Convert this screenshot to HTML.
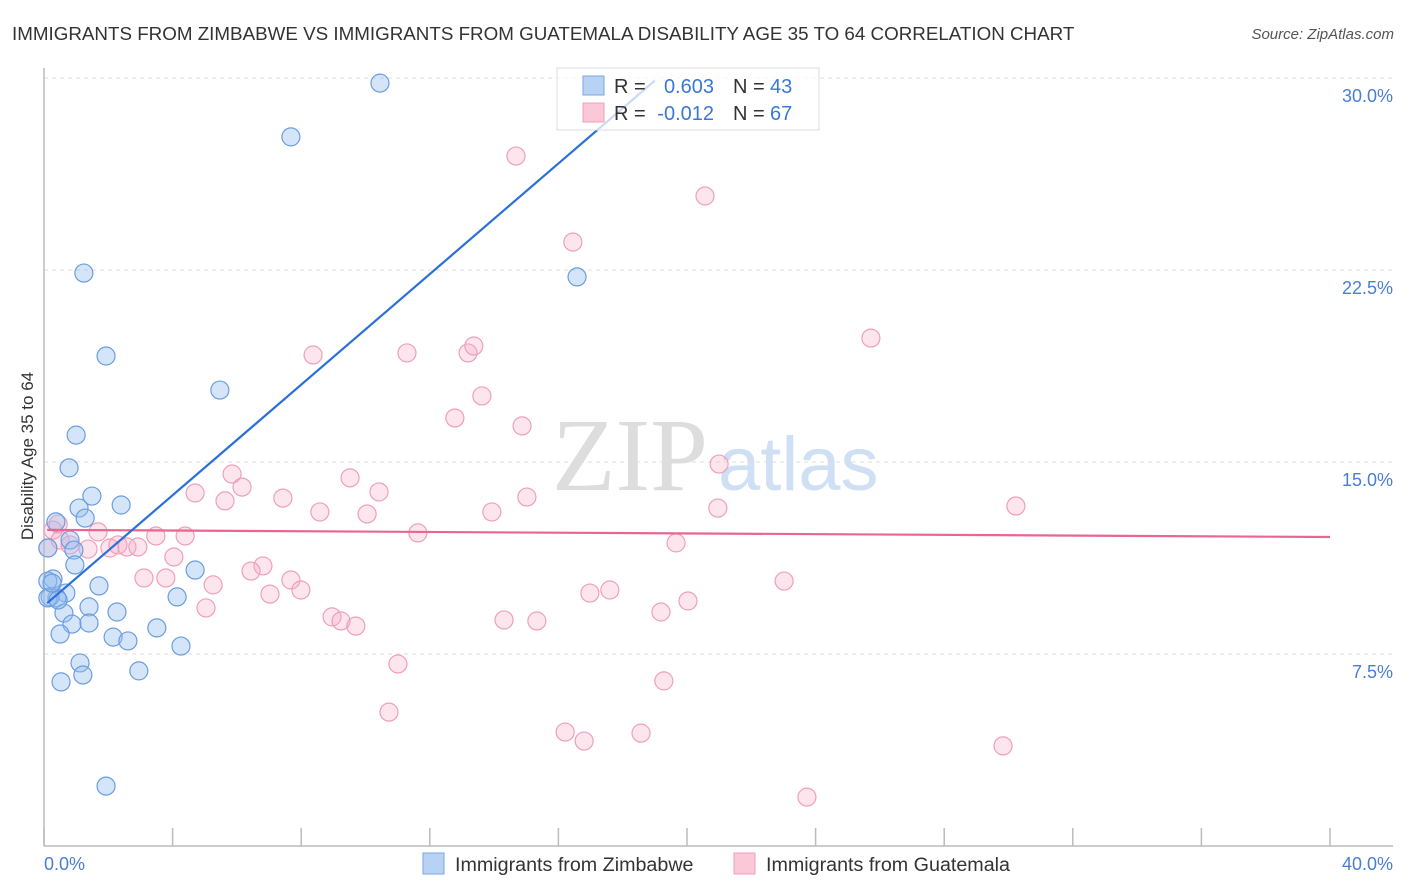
<!DOCTYPE html>
<html><head><meta charset="utf-8"><style>
body{margin:0;background:#fff;font-family:"Liberation Sans",sans-serif}
</style></head><body>
<svg width="1406" height="892" xmlns="http://www.w3.org/2000/svg" style="display:block">
<g id="g"></g>
</svg>
<script>
const blueX=[10.45,7.68,1.24,16.58,1.93,5.47,1.0,0.78,1.49,2.4,1.09,1.28,0.37,0.81,0.93,0.12,0.96,4.7,0.28,0.12,1.71,0.68,0.4,0.19,1.4,0.62,2.27,0.87,1.4,4.14,3.51,0.5,2.15,2.61,4.26,1.12,1.21,2.95,0.53,1.93,0.12,0.25,0.44];
const blueY=[29.8,27.7,22.38,22.23,19.14,17.81,16.05,14.77,13.67,13.32,13.2,12.81,12.66,11.95,11.56,11.64,10.98,10.78,10.43,10.35,10.16,9.88,9.69,9.73,9.34,9.1,9.14,8.67,8.71,9.73,8.52,8.28,8.16,8.01,7.81,7.15,6.68,6.84,6.41,2.34,9.69,10.27,9.61];
const pinkX=[14.68,20.56,16.45,25.72,8.37,11.29,13.19,13.37,13.62,12.78,14.87,21.0,5.85,9.52,6.16,10.42,4.7,5.63,7.43,15.02,8.58,10.05,13.93,20.96,30.23,11.63,1.68,3.48,4.39,0.28,0.5,0.81,1.37,2.05,2.3,2.58,2.92,19.66,4.04,6.81,6.44,3.11,3.79,7.68,5.26,7.03,7.99,16.98,17.6,23.02,5.04,8.96,9.24,9.7,14.31,15.33,19.19,20.03,11.01,19.28,10.73,16.21,16.8,18.57,29.83,23.73,0.12,0.44];
const pinkY=[26.95,25.39,23.59,19.84,19.18,19.26,19.26,19.53,17.58,16.72,16.41,14.92,14.53,14.38,14.02,13.83,13.79,13.48,13.59,13.63,13.05,12.97,13.05,13.2,13.28,12.23,12.27,12.11,12.11,12.34,11.95,11.76,11.6,11.64,11.76,11.68,11.68,11.84,11.29,10.94,10.74,10.47,10.47,10.39,10.2,9.84,10.0,9.88,10.0,10.35,9.3,8.95,8.79,8.59,8.83,8.79,9.14,9.57,7.11,6.45,5.23,4.45,4.1,4.41,3.91,1.91,11.64,12.58];
const yTicks=[7.5,15.0,22.5,30.0];
const yTickLabels=["7.5%","15.0%","22.5%","30.0%"];
const blueLine=[[0.1,9.49],[19.0,29.9]];
const pinkLine=[[0.1,12.35],[40.0,12.07]];

const NS="http://www.w3.org/2000/svg";
const g=document.getElementById('g');
const sx=v=>44+v*32.15, sy=v=>846-v*25.6;
function el(t,a,txt){const e=document.createElementNS(NS,t);for(const k in a)e.setAttribute(k,a[k]);if(txt!==undefined)e.textContent=txt;g.appendChild(e);return e;}

let e;
e=el('text',{x:12,y:40,'font-size':18.8,fill:'#333'},'IMMIGRANTS FROM ZIMBABWE VS IMMIGRANTS FROM GUATEMALA DISABILITY AGE 35 TO 64 CORRELATION CHART');

e=el('text',{x:1394,y:39,'font-size':15,fill:'#555','font-style':'italic','text-anchor':'end'},'Source: ZipAtlas.com');

e=el('text',{x:552,y:490,'font-size':104,fill:'#ddd','font-family':'Liberation Serif, serif'},'ZIP');

e=el('text',{x:718,y:490,'font-size':76,fill:'#d0e0f4'},'atlas');

yTicks.forEach((t,i)=>{
 e=el('line',{x1:44,x2:1393,y1:sy(t),y2:sy(t),stroke:'#ddd','stroke-dasharray':'4,4'});
 
 e=el('text',{x:1393,y:sy(t)+24,'font-size':18,fill:'#4a7fd0','text-anchor':'end'},yTickLabels[i]);
 
});
e=el('line',{x1:44,x2:44,y1:68,y2:846,stroke:'#bbb','stroke-width':1.5});

e=el('line',{x1:44,x2:1393,y1:846,y2:846,stroke:'#bbb','stroke-width':1.5});

for(let i=0;i<=10;i++){
 e=el('line',{x1:sx(i*4),x2:sx(i*4),y1:828,y2:846,stroke:'#bbb','stroke-width':1.5});
 
}
e=el('text',{x:44,y:870,'font-size':18,fill:'#4a7fd0'},'0.0%');

e=el('text',{x:1393,y:870,'font-size':18,fill:'#4a7fd0','text-anchor':'end'},'40.0%');

e=el('text',{x:33,y:456,'font-size':17,fill:'#333','text-anchor':'middle',transform:'rotate(-90 33 456)'},'Disability Age 35 to 64');

pinkX.forEach((x,i)=>{e=el('circle',{cx:sx(x),cy:sy(pinkY[i]),r:9,fill:'rgba(248,170,195,0.3)',stroke:'#eea0b8','stroke-width':1.2});
 });
blueX.forEach((x,i)=>{e=el('circle',{cx:sx(x),cy:sy(blueY[i]),r:9,fill:'rgba(150,190,240,0.4)',stroke:'#6a9de0','stroke-width':1.2});
 });
e=el('line',{x1:sx(pinkLine[0][0]),y1:sy(pinkLine[0][1]),x2:sx(pinkLine[1][0]),y2:sy(pinkLine[1][1]),stroke:'#e8668f','stroke-width':2.2});

e=el('line',{x1:sx(blueLine[0][0]),y1:sy(blueLine[0][1]),x2:sx(blueLine[1][0]),y2:sy(blueLine[1][1]),stroke:'#2a70d8','stroke-width':2.2});

e=el('rect',{x:557,y:68,width:262,height:62,fill:'rgba(255,255,255,0.75)',stroke:'#ddd'});

e=el('rect',{x:583,y:76,width:21,height:19,fill:'#b8d2f4',stroke:'#7aa5e0'});

e=el('rect',{x:583,y:103,width:21,height:19,fill:'#fbc8d8',stroke:'#eea0b8'});

const rows=[["0.603","43",93],["-0.012","67",120]];
rows.forEach(r=>{
 e=el('text',{x:614,y:r[2],'font-size':20,fill:'#333'},'R = ');
 e=el('text',{x:714,y:r[2],'font-size':20,fill:'#3a78d8','text-anchor':'end'},r[0]);
 e=el('text',{x:733,y:r[2],'font-size':20,fill:'#333'},'N = ');
 e=el('text',{x:770,y:r[2],'font-size':20,fill:'#3a78d8'},r[1]);
});
e=el('rect',{x:423,y:853,width:21,height:21,fill:'#b8d2f4',stroke:'#7aa5e0'});

e=el('text',{x:455,y:871,'font-size':19.7,fill:'#333'},'Immigrants from Zimbabwe');

e=el('rect',{x:734,y:853,width:21,height:21,fill:'#fbc8d8',stroke:'#eea0b8'});

e=el('text',{x:766,y:871,'font-size':19.7,fill:'#333'},'Immigrants from Guatemala');

</script>
</body></html>
